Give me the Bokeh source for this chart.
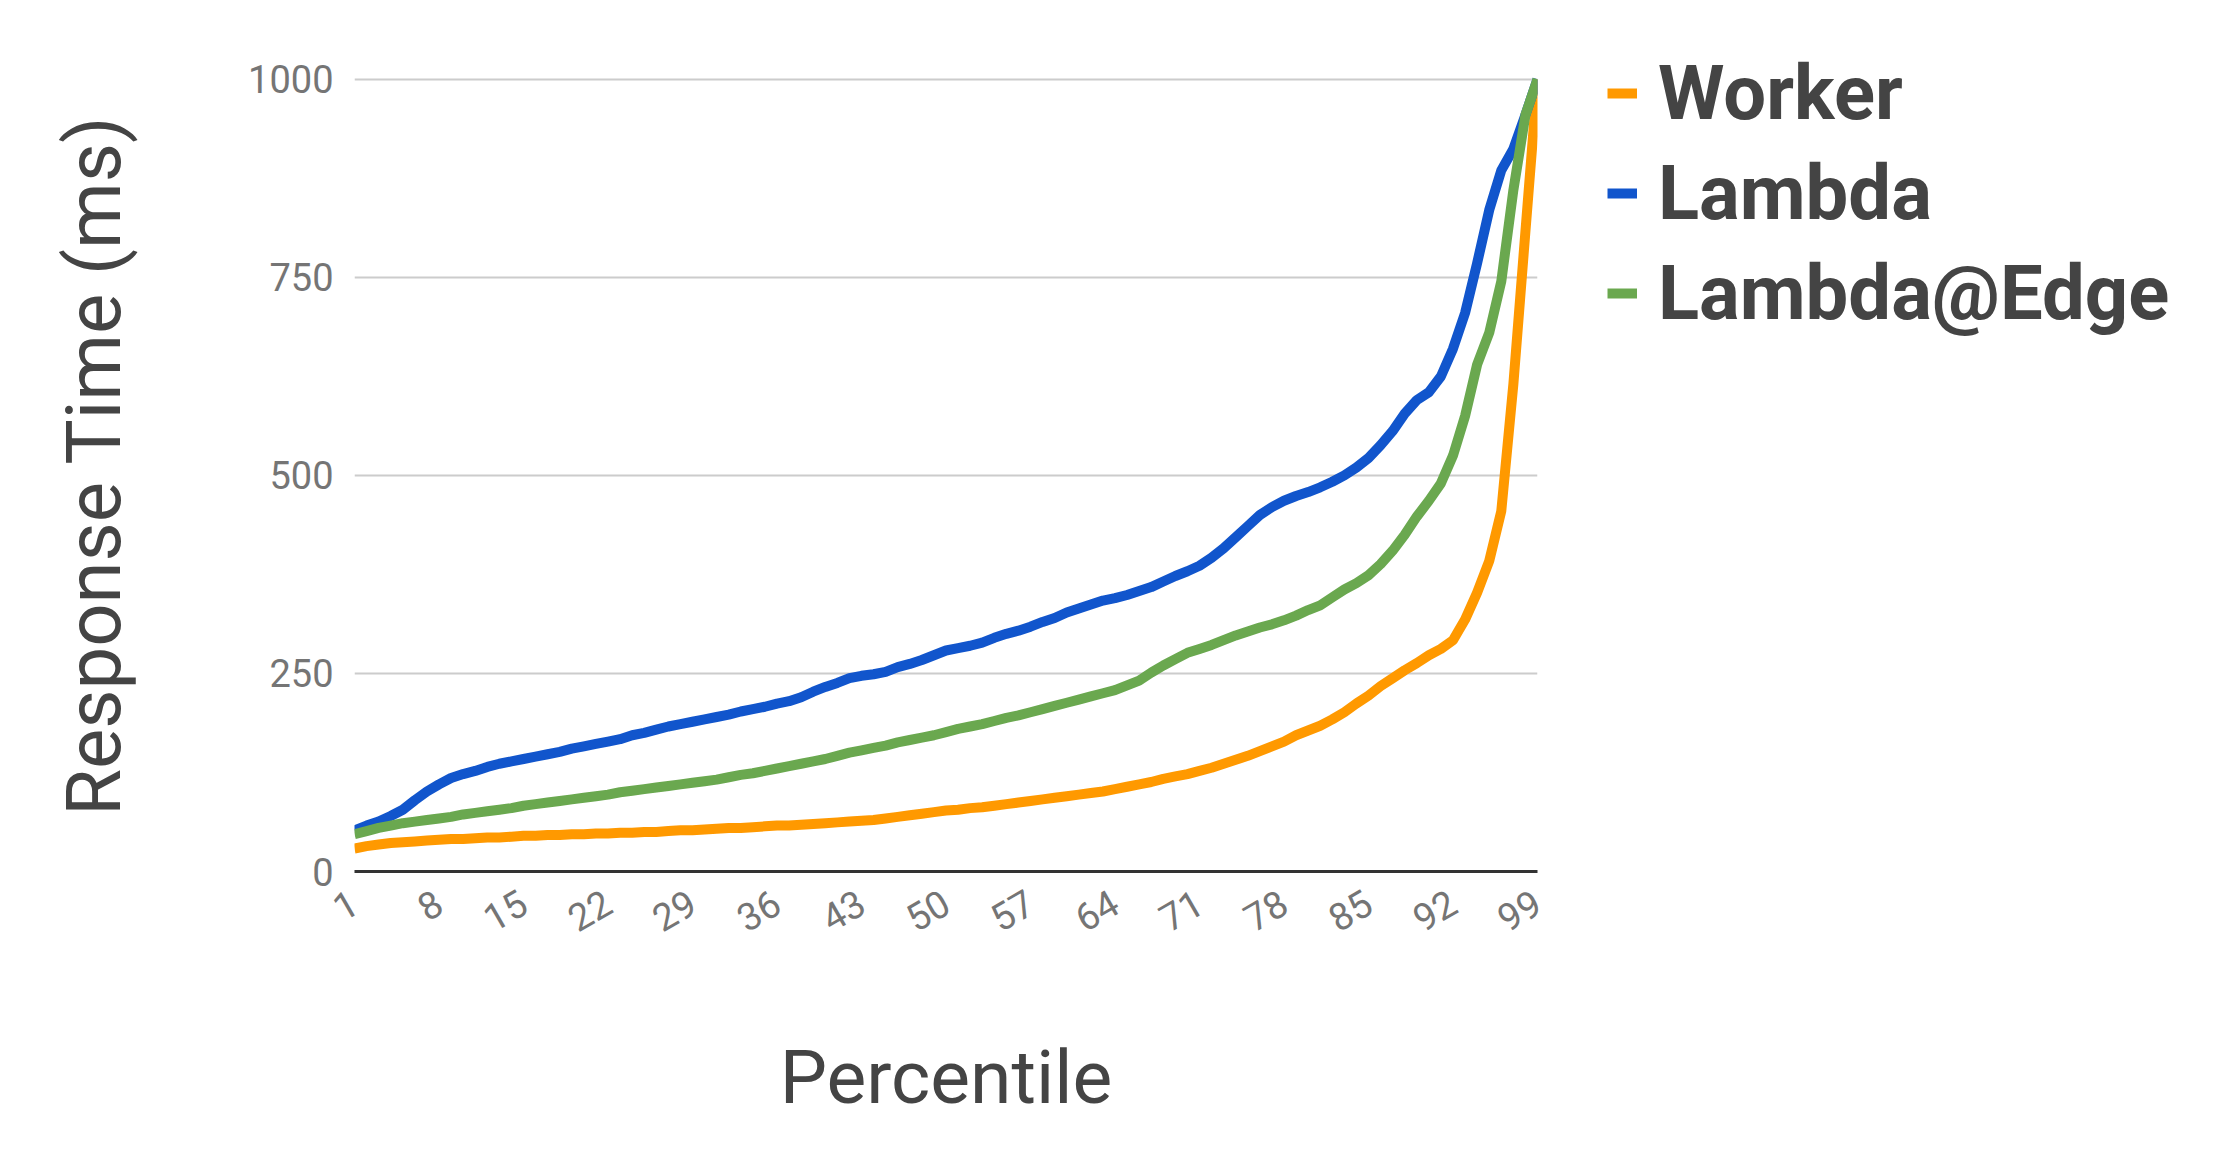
import math
from bokeh.plotting import figure
from bokeh.models import Range1d, FixedTicker, Legend, LegendItem
from bokeh.embed import file_html
from bokeh.resources import INLINE

percentile = list(range(1, 100))

worker = [29, 32, 34, 36, 37, 38, 39, 40, 41, 41,
          42, 43, 43, 44, 45, 45, 46, 46, 47, 47,
          48, 48, 49, 49, 50, 50, 51, 52, 52, 53,
          54, 55, 55, 56, 57, 58, 58, 59, 60, 61,
          62, 63, 64, 65, 67, 69, 71, 73, 75, 77,
          78, 80, 81, 83, 85, 87, 89, 91, 93, 95,
          97, 99, 101, 104, 107, 110, 113, 117, 120, 123,
          127, 131, 136, 141, 146, 152, 158, 164, 172, 178,
          184, 192, 201, 212, 222, 234, 244, 254, 263, 273,
          281, 292, 318, 352, 392, 455, 615, 808, 1000]

lambda_ = [52, 58, 63, 70, 78, 90, 101, 110, 118, 123,
           127, 132, 136, 139, 142, 145, 148, 151, 155, 158,
           161, 164, 167, 172, 175, 179, 183, 186, 189, 192,
           195, 198, 202, 205, 208, 212, 215, 220, 227, 233,
           238, 244, 247, 249, 252, 258, 262, 267, 273, 279,
           282, 285, 289, 295, 300, 304, 309, 315, 320, 327,
           332, 337, 342, 345, 349, 354, 359, 366, 373, 379,
           386, 396, 408, 422, 436, 450, 460, 468, 474, 479,
           485, 492, 500, 510, 522, 538, 556, 578, 595, 605,
           625, 660, 705, 768, 835, 885, 912, 955, 1000]

lambda_edge = [47, 51, 55, 58, 61, 63, 65, 67, 69, 72,
               74, 76, 78, 80, 83, 85, 87, 89, 91, 93,
               95, 97, 100, 102, 104, 106, 108, 110, 112, 114,
               116, 119, 122, 124, 127, 130, 133, 136, 139, 142,
               146, 150, 153, 156, 159, 163, 166, 169, 172, 176,
               180, 183, 186, 190, 194, 197, 201, 205, 209, 213,
               217, 221, 225, 229, 235, 241, 251, 260, 268, 276,
               281, 286, 292, 298, 303, 308, 312, 317, 323, 330,
               336, 346, 356, 364, 374, 388, 405, 425, 448, 468,
               490, 525, 575, 640, 680, 745, 860, 955, 1000]

series_names = ["Worker", "Lambda", "Lambda@Edge"]
series_colors = ["#FF9900", "#1155CC", "#6AA84F"]
x_ticks = [1, 8, 15, 22, 29, 36, 43, 50, 57, 64, 71, 78, 85, 92, 99]
y_ticks = [0, 250, 500, 750, 1000]

LINE_W = 10

p = figure(frame_width=1183, frame_height=812, output_backend="svg", toolbar_location=None,
           x_range=Range1d(1, 99), y_range=Range1d(0, 1025),
           min_border_left=354, min_border_right=0,
           min_border_top=59, min_border_bottom=279)
p.outline_line_color = None
p.background_fill_color = "white"
p.border_fill_color = "white"

renderers = []
for ys, c in zip([worker, lambda_, lambda_edge], series_colors):
    renderers.append(p.line(percentile, ys, line_color=c, line_width=LINE_W, line_join="round"))

p.xgrid.grid_line_color = None
p.ygrid.grid_line_color = "#CCCCCC"
p.ygrid.grid_line_width = 2
p.ygrid.ticker = FixedTicker(ticks=y_ticks)

# y axis
p.yaxis.ticker = FixedTicker(ticks=y_ticks)
p.yaxis.axis_line_color = None
p.yaxis.major_tick_line_color = None
p.yaxis.minor_tick_line_color = None
p.yaxis.major_tick_out = 0
p.yaxis.major_label_standoff = 21
p.yaxis.major_label_text_font = "Roboto"
p.yaxis.major_label_text_font_size = "38px"
p.yaxis.major_label_text_color = "#757575"
p.yaxis.axis_label = "Response Time (ms)"
p.yaxis.axis_label_text_font = "Roboto"
p.yaxis.axis_label_text_font_style = "normal"
p.yaxis.axis_label_text_font_size = "76px"
p.yaxis.axis_label_text_color = "#444444"
p.yaxis.axis_label_standoff = 106

# x axis
p.xaxis.ticker = FixedTicker(ticks=x_ticks)
p.xaxis.axis_line_color = "#333333"
p.xaxis.axis_line_width = 3
p.xaxis.major_tick_line_color = None
p.xaxis.minor_tick_line_color = None
p.xaxis.major_tick_out = 0
p.xaxis.major_label_standoff = 28
p.xaxis.major_label_orientation = math.pi / 6
p.xaxis.major_label_text_font = "Roboto"
p.xaxis.major_label_text_font_size = "38px"
p.xaxis.major_label_text_color = "#757575"
p.xaxis.axis_label = "Percentile"
p.xaxis.axis_label_text_font = "Roboto"
p.xaxis.axis_label_text_font_style = "normal"
p.xaxis.axis_label_text_font_size = "75px"
p.xaxis.axis_label_text_color = "#444444"
p.xaxis.axis_label_standoff = 85

legend = Legend(items=[LegendItem(label=n, renderers=[r]) for n, r in zip(series_names, renderers)],
                location=(70, 533))
legend.border_line_color = None
legend.background_fill_alpha = 0
legend.padding = 0
legend.margin = 0
legend.spacing = 10
legend.glyph_width = 30
legend.glyph_height = 90
legend.label_height = 90
legend.label_standoff = 21
legend.label_text_font = "Roboto"
legend.label_text_font_style = "bold"
legend.label_text_font_size = "76px"
legend.label_text_color = "#444444"
p.add_layout(legend, "right")

open("out.html", "w").write(file_html(p, INLINE))
